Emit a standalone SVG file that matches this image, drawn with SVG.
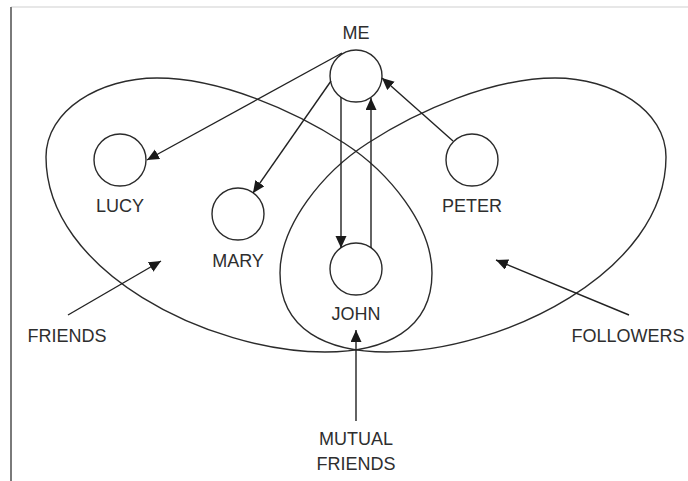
<svg xmlns="http://www.w3.org/2000/svg" width="688" height="481" viewBox="0 0 688 481">
<style>
.frame{stroke-linecap:square}
.node{fill:none;stroke:#2b2b2b;stroke-width:1.4}
.set{fill:none;stroke:#2b2b2b;stroke-width:1.4}
.lbl{font-family:"Liberation Sans",Arial,sans-serif;font-size:18px;fill:#2e2e2e;text-anchor:middle}
.edge{stroke:#222;stroke-width:1.4;fill:none;marker-end:url(#ah)}
</style>
<defs>
<marker id="ah" markerUnits="userSpaceOnUse" markerWidth="13" markerHeight="12" refX="12" refY="5.5" orient="auto">
<path d="M0,0 L12,5.5 L0,11 Z" fill="#1a1a1a"/>
</marker>
<path id="friendsShape" d="M325,352 C210,352 46,272 46,157 C46,110 100,78 157,78 C220,78 294,110.5 344,143 C389,172 432,225 432,273 C432,330 385,352 325,352 Z"/>
</defs>
<rect width="688" height="481" fill="#fff"/>
<line x1="11" y1="7" x2="688" y2="7" stroke="#cfcfcf" stroke-width="1"/>
<line x1="11" y1="7" x2="11" y2="481" stroke="#7a7a7a" stroke-width="2"/>

<g id="friends-set">
<use href="#friendsShape" class="set"/>
<text class="lbl" x="67" y="342">FRIENDS</text>
</g>
<g id="followers-set">
<use href="#friendsShape" class="set" transform="translate(712,0) scale(-1,1)"/>
<text class="lbl" x="628" y="342">FOLLOWERS</text>
</g>
<g id="mutual-friends">
<text class="lbl" x="356" y="445">MUTUAL</text>
<text class="lbl" x="356" y="470">FRIENDS</text>
</g>

<g id="me"><circle class="node" cx="356" cy="76" r="26"/><text class="lbl" x="356" y="39">ME</text></g>
<g id="lucy"><circle class="node" cx="120" cy="160" r="26"/><text class="lbl" x="120" y="212">LUCY</text></g>
<g id="mary"><circle class="node" cx="238" cy="214" r="26"/><text class="lbl" x="238" y="267">MARY</text></g>
<g id="john"><circle class="node" cx="356" cy="269" r="26"/><text class="lbl" x="356" y="320">JOHN</text></g>
<g id="peter"><circle class="node" cx="472" cy="160" r="26"/><text class="lbl" x="472" y="212">PETER</text></g>

<g id="connectors">
<line class="edge" x1="342" y1="53" x2="147" y2="160"/>
<line class="edge" x1="331" y1="81" x2="253" y2="193"/>
<line class="edge" x1="341" y1="97" x2="341" y2="248"/>
<line class="edge" x1="371" y1="248" x2="371" y2="98"/>
<line class="edge" x1="453" y1="141" x2="382" y2="78"/>
<line class="edge" x1="68" y1="315" x2="161" y2="261"/>
<line class="edge" x1="629" y1="315" x2="496" y2="260"/>
<line class="edge" x1="356" y1="421" x2="356" y2="330"/>
</g>
</svg>
